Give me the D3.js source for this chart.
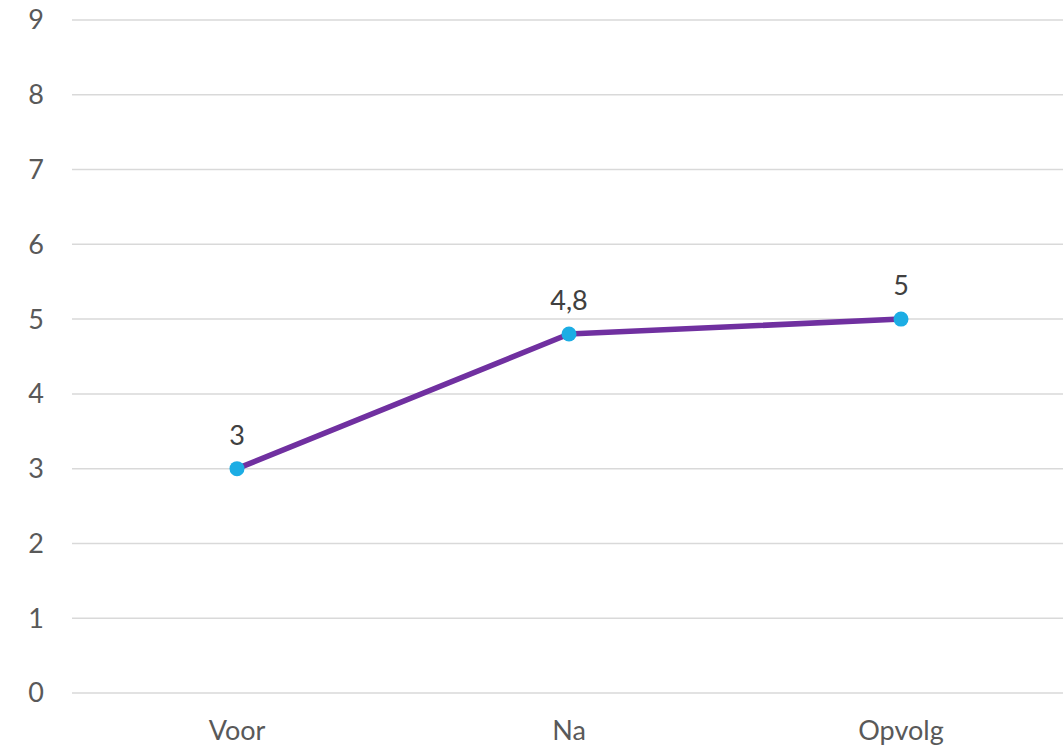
<!DOCTYPE html>
<html>
<head>
<meta charset="utf-8">
<script src="https://cdn.jsdelivr.net/npm/d3@7"></script>
<style>
  html, body { margin: 0; padding: 0; background: #fff; }
  svg text { font-family: "Lato", "Open Sans", sans-serif; fill: #595959; }
</style>
</head>
<body>
<div id="chart"></div>
<script>
(function() {

  var width = 1063, height = 749;

  var categories = ["Voor", "Na", "Opvolg"];
  var values = [3, 4.8, 5];
  var valueLabels = ["3", "4,8", "5"];
  var yTicks = [0, 1, 2, 3, 4, 5, 6, 7, 8, 9];

  var svg = d3.select("#chart")
    .append("svg")
    .attr("width", width)
    .attr("height", height);

  var x = d3.scaleBand().domain(categories).range([71, 1067]);
  var y = d3.scaleLinear().domain([0, 9]).range([693, 20]);

  // gridlines
  svg.selectAll(".grid")
    .data(yTicks)
    .enter().append("line")
    .attr("class", "grid")
    .attr("x1", 72)
    .attr("x2", width)
    .attr("y1", function(d) { return y(d); })
    .attr("y2", function(d) { return y(d); })
    .attr("stroke", "#d9d9d9")
    .attr("stroke-width", 1.5);

  // y labels
  svg.selectAll(".ylab")
    .data(yTicks)
    .enter().append("text")
    .attr("class", "ylab")
    .attr("x", 36)
    .attr("y", function(d) { return y(d); })
    .attr("dy", "0.35em")
    .attr("text-anchor", "middle")
    .style("font-size", "27px")
    .text(function(d) { return d; });

  // x labels
  svg.selectAll(".xlab")
    .data(categories)
    .enter().append("text")
    .attr("class", "xlab")
    .attr("x", function(d) { return x(d) + x.bandwidth() / 2; })
    .attr("y", 740)
    .attr("text-anchor", "middle")
    .style("font-size", "27px")
    .text(function(d) { return d; });

  var pts = categories.map(function(c, i) {
    return { cat: c, v: values[i], label: valueLabels[i] };
  });

  var line = d3.line()
    .x(function(d) { return x(d.cat) + x.bandwidth() / 2; })
    .y(function(d) { return y(d.v); });

  svg.append("path")
    .datum(pts)
    .attr("d", line)
    .attr("fill", "none")
    .attr("stroke", "#7030a0")
    .attr("stroke-width", 5.5)
    .attr("stroke-linejoin", "round");

  svg.selectAll(".dot")
    .data(pts)
    .enter().append("circle")
    .attr("class", "dot")
    .attr("cx", function(d) { return x(d.cat) + x.bandwidth() / 2; })
    .attr("cy", function(d) { return y(d.v); })
    .attr("r", 7.5)
    .attr("fill", "#1cade4");

  svg.selectAll(".vlab")
    .data(pts)
    .enter().append("text")
    .attr("class", "vlab")
    .attr("x", function(d) { return x(d.cat) + x.bandwidth() / 2; })
    .attr("y", function(d) { return y(d.v) - 24; })
    .attr("text-anchor", "middle")
    .style("font-size", "27px")
    .style("fill", "#404040")
    .text(function(d) { return d.label; });

})();
</script>
</body>
</html>
